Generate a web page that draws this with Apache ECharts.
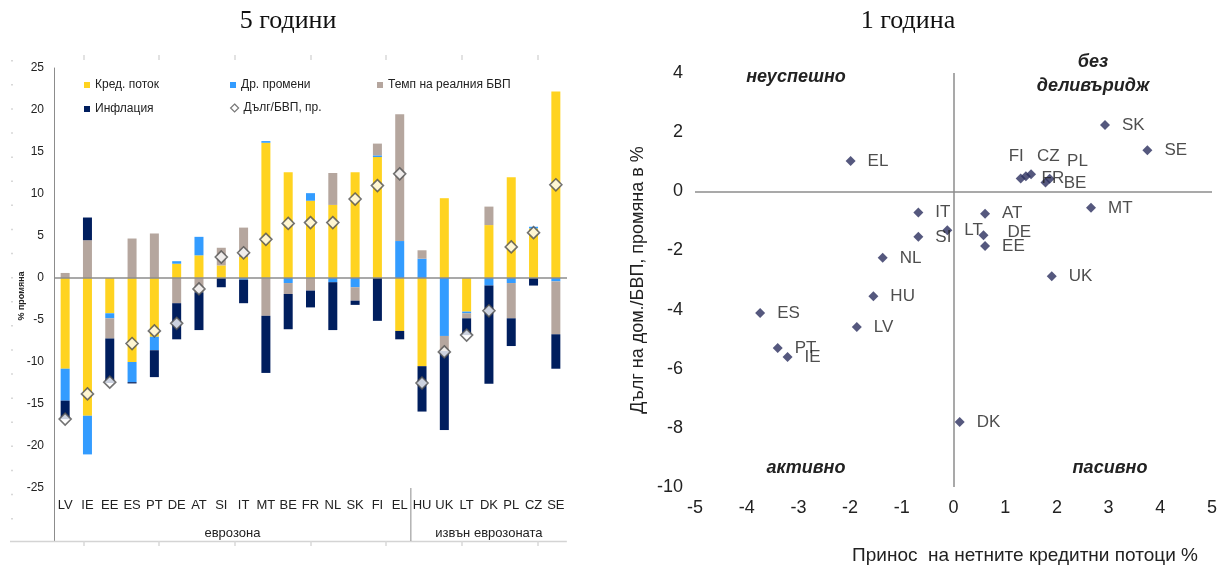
<!DOCTYPE html>
<html>
<head>
<meta charset="utf-8">
<script src="https://cdn.jsdelivr.net/npm/echarts@6/dist/echarts.min.js"></script>
<style>
  html, body { margin: 0; padding: 0; background: #fff; }
  #chart { width: 1223px; height: 574px; }
</style>
</head>
<body>
<div id="chart"></div>
<script>
// ---- Left panel: 5-year decomposition of household debt/GDP change ----
const categories = ['LV','IE','EE','ES','PT','DE','AT','SI','IT','MT','BE','FR','NL','SK','FI','EL','HU','UK','LT','DK','PL','CZ','SE'];
const euroAreaCount = 16; // first 16 categories belong to the euro area
const creditFlow = [-10.8,-16.4,-4.2,-10.0,-7.0,1.7,2.7,1.5,2.5,16.1,12.6,9.2,8.7,12.6,14.4,-6.3,-10.5,9.5,-4.0,6.3,12.0,5.9,22.2];
const otherChanges = [-3.8,-4.6,-0.6,-2.4,-1.6,0.3,2.2,0,-0.2,0.2,-0.6,0.9,-0.5,-1.1,0.2,4.4,2.3,-6.9,-0.2,-0.9,-0.6,0.2,-0.4];
const realGdpGrowth = [0.6,4.5,-2.4,4.7,5.3,-3.0,-1.7,2.1,3.5,-4.5,-1.3,-1.5,3.8,-1.6,1.4,15.1,1.0,-1.8,-0.6,2.2,-4.2,0,-6.3];
const inflation = [-2.2,2.7,-5.3,-0.15,-3.2,-4.3,-4.5,-1.1,-2.8,-6.8,-4.2,-2.0,-5.7,-0.5,-5.1,-1.0,-5.4,-9.4,-2.0,-11.7,-3.3,-0.9,-4.1];
const debtToGdpChange = [-16.8,-13.8,-12.4,-7.8,-6.3,-5.4,-1.3,2.5,3.0,4.6,6.5,6.6,6.6,9.4,11.0,12.4,-12.5,-8.8,-6.8,-3.9,3.7,5.4,11.1];
const leftTicks = { min: -25, max: 25, step: 5 };

// ---- Right panel: 1-year debt change vs. credit-flow contribution ----
const pointNames = ['EL','SK','SE','FI','CZ','PL','FR','BE','MT','IT','SI','LT','AT','DE','EE','UK','NL','HU','ES','LV','PT','IE','DK'];
const creditContribution = [-1.99,2.93,3.75,1.30,1.40,1.50,1.78,1.86,2.66,-0.68,-0.68,-0.12,0.61,0.58,0.61,1.90,-1.37,-1.55,-3.74,-1.87,-3.40,-3.21,0.12];
const debtChange1y = [1.02,2.24,1.39,0.43,0.51,0.58,0.30,0.42,-0.56,-0.72,-1.54,-1.32,-0.76,-1.49,-1.85,-2.87,-2.25,-3.55,-4.12,-4.59,-5.30,-5.60,-7.80];
const rightXTicks = { min: -5, max: 5, step: 1 };
const rightYTicks = { min: -10, max: 4, step: 2 };

const COLORS = { credit: '#FFD320', other: '#339CFF', gdp: '#B5A69E', infl: '#001E5E', point: '#2B2E5E' };
const SANS = '"Liberation Sans", Arial, sans-serif';

// label placement tweaks for crowded points (pixel offsets)
const labelOffsets = { FI: [-29, -22], CZ: [-6, -20], PL: [19, -13], FR: [-21, -4], BE: [-3, 4], DE: [7, -3] };

const chart = echarts.init(document.getElementById('chart'), null, { renderer: 'canvas' });

function barSeries(name, data, color) {
  return {
    name, type: 'bar', stack: 'decomp', data, barWidth: 9,
    xAxisIndex: 0, yAxisIndex: 0,
    itemStyle: { color }, emphasis: { disabled: true }
  };
}

const legendText = { fontFamily: SANS, fontSize: 12, color: '#222' };
function legendAt(name, left, top) {
  return {
    data: [{ name, icon: 'rect' }],
    left, top, itemWidth: 6, itemHeight: 6, itemGap: 0, selectedMode: false, textStyle: legendText
  };
}

const option = {
  animation: false,
  textStyle: { fontFamily: SANS },
  grid: [
    { left: 54, right: 656, top: 68, bottom: 86 },
    { left: 695, right: 11, top: 73, bottom: 87 }
  ],
  legend: [
    legendAt('Кред. поток', 79, 74),
    legendAt('Др. промени', 225, 74),
    legendAt('Темп на реалния БВП', 372, 74),
    legendAt('Инфлация', 79, 98),
    {
      data: [{ name: 'Дълг/БВП, пр.', icon: 'diamond', itemStyle: { color: '#fff', borderColor: '#555', borderWidth: 1.2 } }],
      left: 225, top: 97, itemWidth: 8, itemHeight: 8, itemGap: 0, selectedMode: false, textStyle: legendText
    }
  ],
  xAxis: [
    {
      type: 'category', gridIndex: 0, data: categories,
      axisLine: { show: false }, axisTick: { show: false }, splitLine: { show: false },
      axisLabel: { margin: 11, fontSize: 13, color: '#222', fontFamily: SANS, interval: 0 }
    },
    {
      type: 'value', gridIndex: 1, min: rightXTicks.min, max: rightXTicks.max, interval: rightXTicks.step,
      axisLine: { show: false }, axisTick: { show: false }, splitLine: { show: false },
      axisLabel: { margin: 12, fontSize: 18, color: '#222', fontFamily: SANS }
    }
  ],
  yAxis: [
    {
      type: 'value', gridIndex: 0, min: leftTicks.min, max: leftTicks.max, interval: leftTicks.step,
      axisLine: { show: true, lineStyle: { color: '#8c8c8c', width: 1 } },
      axisTick: { show: false }, splitLine: { show: false },
      axisLabel: { margin: 10, fontSize: 12, color: '#222', fontFamily: SANS }
    },
    {
      type: 'value', gridIndex: 1, min: rightYTicks.min, max: rightYTicks.max, interval: rightYTicks.step,
      axisLine: { show: false }, axisTick: { show: false }, splitLine: { show: false },
      axisLabel: { margin: 12, fontSize: 18, color: '#222', fontFamily: SANS },
      name: 'Дълг на дом./БВП, промяна в %', nameLocation: 'middle', nameGap: 48, nameRotate: 90,
      nameTextStyle: { fontSize: 18, color: '#222', fontFamily: SANS }
    }
  ],
  series: [
    Object.assign(barSeries('Кред. поток', creditFlow, COLORS.credit), {
      markLine: {
        silent: true, symbol: 'none', label: { show: false },
        lineStyle: { color: '#8c8c8c', width: 1.5, type: 'solid' },
        data: [{ yAxis: 0 }]
      }
    }),
    barSeries('Др. промени', otherChanges, COLORS.other),
    barSeries('Темп на реалния БВП', realGdpGrowth, COLORS.gdp),
    barSeries('Инфлация', inflation, COLORS.infl),
    {
      name: 'Дълг/БВП, пр.', type: 'scatter', xAxisIndex: 0, yAxisIndex: 0,
      data: debtToGdpChange, symbol: 'diamond', symbolSize: 12, z: 5,
      itemStyle: { color: '#fff', borderColor: '#505050', borderWidth: 1.6 },
      emphasis: { disabled: true }
    },
    {
      name: 'countries', type: 'scatter', xAxisIndex: 1, yAxisIndex: 1,
      symbol: 'diamond', symbolSize: 10,
      itemStyle: { color: COLORS.point },
      data: pointNames.map((n, i) => ({ name: n, value: [creditContribution[i], debtChange1y[i]] })),
      label: {
        show: true, position: 'right', distance: 12, formatter: '{b}',
        fontFamily: SANS, fontSize: 17, color: '#222'
      },
      labelLayout: function (params) {
        const o = labelOffsets[pointNames[params.dataIndex]];
        return o ? { dx: o[0], dy: o[1], hideOverlap: false } : { hideOverlap: false };
      },
      emphasis: { disabled: true },
      markLine: {
        silent: true, symbol: 'none', label: { show: false },
        lineStyle: { color: '#8c8c8c', width: 1.5, type: 'solid' },
        data: [{ xAxis: 0 }, { yAxis: 0 }]
      }
    }
  ]
};

chart.setOption(option);

// ---- Decorations tied to the axes ----
const px = (idx) => chart.convertToPixel({ xAxisIndex: 0 }, idx);
const py = (v) => chart.convertToPixel({ yAxisIndex: 0 }, v);
const lastEuro = px(euroAreaCount - 1), firstOther = px(euroAreaCount);
const splitX = (lastEuro + firstOther) / 2;
const bottomY = py(leftTicks.min);
const frameY = bottomY + 53;
const groupY = bottomY + 45;

const graphics = [];
const titleFont = '26px "Liberation Serif", "Times New Roman", serif';
graphics.push({ type: 'text', x: 288, y: 21, style: { text: '5 години', font: titleFont, fill: '#111', align: 'center', verticalAlign: 'middle' } });
graphics.push({ type: 'text', x: 908, y: 21, style: { text: '1 година', font: titleFont, fill: '#111', align: 'center', verticalAlign: 'middle' } });
// y-axis caption of the left panel
graphics.push({ type: 'text', x: 22, y: 296, rotation: Math.PI / 2, style: { text: '% промяна', font: 'bold 9px ' + SANS, fill: '#222', align: 'center', verticalAlign: 'middle' } });
// x-axis caption of the right panel
graphics.push({ type: 'text', x: 1025, y: 556, style: { text: 'Принос  на нетните кредитни потоци %', font: '19px ' + SANS, fill: '#222', align: 'center', verticalAlign: 'middle' } });
// extend y axis line down to the category frame
graphics.push({ type: 'line', shape: { x1: 54.5, y1: bottomY, x2: 54.5, y2: frameY }, style: { stroke: '#8c8c8c', lineWidth: 1 } });
// frame under the category labels
graphics.push({ type: 'line', shape: { x1: 10, y1: frameY + 0.5, x2: px(categories.length - 1) + 11, y2: frameY + 0.5 }, style: { stroke: '#d4d4d4', lineWidth: 1.5 } });
graphics.push({ type: 'line', shape: { x1: splitX, y1: bottomY, x2: splitX, y2: frameY }, style: { stroke: '#8c8c8c', lineWidth: 1 } });
// group labels
graphics.push({ type: 'text', x: (px(0) + lastEuro) / 2, y: groupY, style: { text: 'еврозона', font: '13px ' + SANS, fill: '#222', align: 'center', verticalAlign: 'middle' } });
graphics.push({ type: 'text', x: (firstOther + px(categories.length - 1)) / 2, y: groupY, style: { text: 'извън еврозоната', font: '13px ' + SANS, fill: '#222', align: 'center', verticalAlign: 'middle' } });
// faint sheet cell marks around the left panel
[84, 159, 235, 311, 386, 462, 538].forEach(x => {
  graphics.push({ type: 'line', shape: { x1: x, y1: 55, x2: x, y2: 60 }, style: { stroke: '#d8d8d8', lineWidth: 1.5 } });
  graphics.push({ type: 'line', shape: { x1: x, y1: frameY, x2: x, y2: frameY + 5 }, style: { stroke: '#d8d8d8', lineWidth: 1.5 } });
});
for (let y = 60; y <= 520; y += 24.1) {
  graphics.push({ type: 'rect', shape: { x: 11, y: y, width: 2, height: 1.5 }, style: { fill: '#d8d8d8' } });
}
// quadrant captions of the right panel
const quad = 'italic bold 18px ' + SANS;
graphics.push({ type: 'text', x: 796, y: 77, style: { text: 'неуспешно', font: quad, fill: '#222', align: 'center', verticalAlign: 'middle' } });
graphics.push({ type: 'text', x: 1093, y: 62, style: { text: 'без', font: quad, fill: '#222', align: 'center', verticalAlign: 'middle' } });
graphics.push({ type: 'text', x: 1093, y: 86, style: { text: 'деливъридж', font: quad, fill: '#222', align: 'center', verticalAlign: 'middle' } });
graphics.push({ type: 'text', x: 806, y: 468, style: { text: 'активно', font: quad, fill: '#222', align: 'center', verticalAlign: 'middle' } });
graphics.push({ type: 'text', x: 1110, y: 468, style: { text: 'пасивно', font: quad, fill: '#222', align: 'center', verticalAlign: 'middle' } });

chart.setOption({ graphic: graphics });
</script>
</body>
</html>
